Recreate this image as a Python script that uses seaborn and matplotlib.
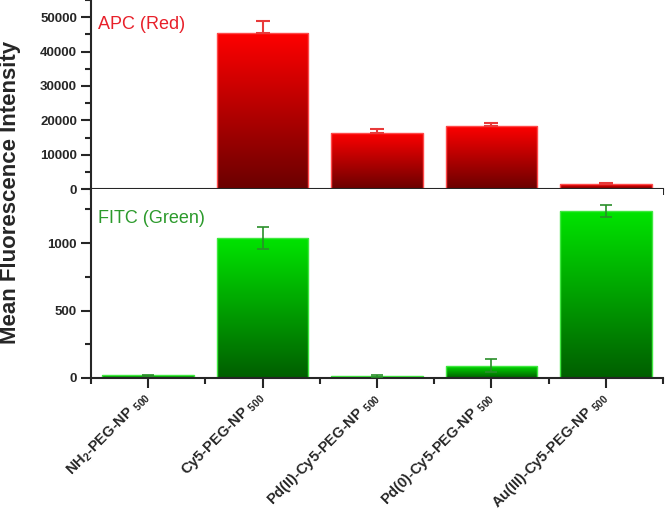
import numpy as np
import matplotlib
matplotlib.use("Agg")
import matplotlib.pyplot as plt
import matplotlib.colors as mcolors
from matplotlib.ticker import MultipleLocator
import seaborn as sns

# Data
samples = ["NH$_2$-PEG-NP $_{\\mathit{500}}$",
           "Cy5-PEG-NP $_{\\mathit{500}}$",
           "Pd(II)-Cy5-PEG-NP $_{\\mathit{500}}$",
           "Pd(0)-Cy5-PEG-NP $_{\\mathit{500}}$",
           "Au(III)-Cy5-PEG-NP $_{\\mathit{500}}$"]
apc_mean = [0, 45400, 16400, 18400, 1450]
apc_err = [np.nan, 3500, 1150, 900, 300]
fitc_mean = [20, 1037, 12, 92, 1237]
fitc_err = [5, 82, 8, 50, 45]

sns.set_style("ticks")
plt.rcParams["font.family"] = ["Liberation Sans", "DejaVu Sans"]
plt.rcParams["mathtext.fontset"] = "custom"
plt.rcParams["mathtext.rm"] = "Liberation Sans:bold"
plt.rcParams["mathtext.bf"] = "Liberation Sans:bold"
plt.rcParams["mathtext.it"] = "Liberation Sans:italic"


def gradient_bars(ax, top, bottom, edge):
    # fill each bar with a vertical gradient (bright top -> dark bottom)
    cmap = mcolors.LinearSegmentedColormap.from_list("g", [bottom, top])
    grad = np.linspace(1, 0, 256).reshape(-1, 1)
    for p in list(ax.patches):
        bb = p.get_bbox()
        if bb.height <= 0:
            continue
        im = ax.imshow(grad, cmap=cmap, aspect="auto",
                       extent=[bb.x0, bb.x1, bb.y0, bb.y1], zorder=1)
        im.set_clip_path(p)
        p.set_facecolor("none")
        p.set_edgecolor(edge)
        p.set_linewidth(1.0)
        p.set_zorder(2)


fig = plt.figure(figsize=(6.66, 5.14), dpi=100)
ax1 = fig.add_axes([0.1366, 0.632, 0.859, 0.368])
ax2 = fig.add_axes([0.1366, 0.2646, 0.859, 0.3674])

xs = np.arange(len(samples))

# top panel - APC (only the upper half of the error bar shows above the bar)
sns.barplot(x=samples, y=apc_mean, ax=ax1, width=0.8, errorbar=None)
gradient_bars(ax1, "#ff0000", "#6a0000", "#ff4a4a")
upper = np.array(apc_err)
ax1.errorbar(xs, apc_mean, yerr=[upper * 0, upper], fmt="none",
             ecolor="#e83a3a", elinewidth=1.5, capsize=5, capthick=1.5, zorder=3)
ax1.set_xlim(-0.5, 4.5)
ax1.set_ylim(0, 55000)
ax1.yaxis.set_major_locator(MultipleLocator(10000))
ax1.yaxis.set_minor_locator(MultipleLocator(5000))
ax1.text(0.012, 0.87, "APC (Red)", transform=ax1.transAxes, color="#e8202a",
         fontsize=13, va="center", ha="left")

# bottom panel - FITC
sns.barplot(x=samples, y=fitc_mean, ax=ax2, width=0.8, errorbar=None)
gradient_bars(ax2, "#00e400", "#005e00", "#40e840")
ax2.errorbar(xs, fitc_mean, yerr=fitc_err, fmt="none", ecolor="#2a8f2a",
             elinewidth=1.2, capsize=4, capthick=1.2, zorder=3)
ax2.set_xlim(-0.5, 4.5)
ax2.set_ylim(0, 1400)
ax2.yaxis.set_major_locator(MultipleLocator(500))
ax2.yaxis.set_minor_locator(MultipleLocator(250))
ax2.text(0.012, 0.846, "FITC (Green)", transform=ax2.transAxes, color="#2c9a2c",
         fontsize=13, va="center", ha="left")

for ax in (ax1, ax2):
    sns.despine(ax=ax)
    ax.spines["left"].set_linewidth(1.5)
    ax.spines["bottom"].set_linewidth(1.5)
    ax.set_xticks(xs)
    ax.xaxis.set_minor_locator(MultipleLocator(1, offset=0.5))
    ax.tick_params(which="major", direction="out", length=7, width=1.5,
                   labelsize=9.5, pad=3)
    ax.tick_params(which="minor", direction="out", length=4, width=1.5)
    for lab in ax.get_yticklabels():
        lab.set_fontweight("bold")
    ax.set_xlabel("")
    ax.set_ylabel("")

ax1.set_xticklabels([])
ax2.set_xticklabels(samples, rotation=45, ha="right", va="center",
                    rotation_mode="anchor", fontsize=10.5, fontweight="bold")
ax2.tick_params(axis="x", which="major", pad=5)

fig.text(0.016, 1 - 192 / 514, "Mean Fluorescence Intensity", rotation=90,
         va="center", ha="center", fontsize=16, fontweight="bold")

fig.savefig("out.png", dpi=100)
